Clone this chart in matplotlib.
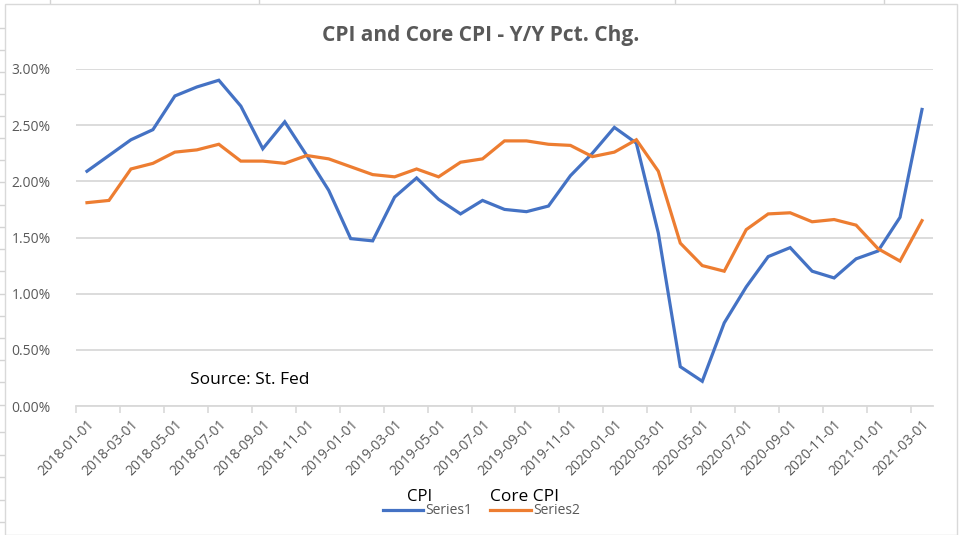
import matplotlib.pyplot as plt
from matplotlib.lines import Line2D
from matplotlib.patches import Rectangle
from matplotlib.ticker import FuncFormatter

# Dane miesieczne 2018-01 .. 2021-03
miesiace = ["2018-01-01", "2018-02-01", "2018-03-01", "2018-04-01", "2018-05-01",
            "2018-06-01", "2018-07-01", "2018-08-01", "2018-09-01", "2018-10-01",
            "2018-11-01", "2018-12-01", "2019-01-01", "2019-02-01", "2019-03-01",
            "2019-04-01", "2019-05-01", "2019-06-01", "2019-07-01", "2019-08-01",
            "2019-09-01", "2019-10-01", "2019-11-01", "2019-12-01", "2020-01-01",
            "2020-02-01", "2020-03-01", "2020-04-01", "2020-05-01", "2020-06-01",
            "2020-07-01", "2020-08-01", "2020-09-01", "2020-10-01", "2020-11-01",
            "2020-12-01", "2021-01-01", "2021-02-01", "2021-03-01"]

cpi = [2.09, 2.23, 2.37, 2.46, 2.76, 2.84, 2.90, 2.67, 2.29, 2.53,
       2.23, 1.92, 1.49, 1.47, 1.86, 2.03, 1.84, 1.71, 1.83, 1.75,
       1.73, 1.78, 2.05, 2.25, 2.48, 2.34, 1.54, 0.35, 0.22, 0.74,
       1.06, 1.33, 1.41, 1.20, 1.14, 1.31, 1.38, 1.68, 2.64]

core_cpi = [1.81, 1.83, 2.11, 2.16, 2.26, 2.28, 2.33, 2.18, 2.18, 2.16,
            2.23, 2.20, 2.13, 2.06, 2.04, 2.11, 2.04, 2.17, 2.20, 2.36,
            2.36, 2.33, 2.32, 2.22, 2.26, 2.37, 2.09, 1.45, 1.25, 1.20,
            1.57, 1.71, 1.72, 1.64, 1.66, 1.61, 1.40, 1.29, 1.65]

szary = "#595959"
siatka = "#d9d9d9"

plt.rcParams['font.family'] = ['Open Sans', 'DejaVu Sans']
fig = plt.figure(figsize=(9.59, 5.35), dpi=100)

W, H = 959.0, 535.0

# Tlo arkusza (linie komorek)
for x in [50, 259, 675, 884]:
    fig.add_artist(Line2D([x / W, x / W], [1, 1 - 5 / H], color="#d4d4d4", lw=1, zorder=-20))
for y in [28, 50, 72, 94, 116, 138, 160, 182, 205, 227, 249, 271, 294, 316,
          338, 360, 382, 405, 432, 455, 477, 500, 522]:
    fig.add_artist(Line2D([0, 5 / W], [1 - y / H, 1 - y / H], color="#d4d4d4", lw=1, zorder=-20))

# Obszar wykresu
fig.add_artist(Rectangle((5 / W, 0), (957 - 5) / W, 1 - 4 / H, transform=fig.transFigure,
                         facecolor="white", edgecolor=siatka, lw=1, zorder=-10))

ax = fig.add_axes([76 / W, 1 - 406 / H, (933 - 76) / W, (406 - 69) / H])
ax.set_facecolor("none")

xs = list(range(len(miesiace)))
ax.plot(xs, cpi, color="#4472C4", lw=2.3, solid_joinstyle="miter", label="Series1", zorder=3)
ax.plot(xs, core_cpi, color="#ED7D31", lw=2.3, solid_joinstyle="miter", label="Series2", zorder=3)

ax.set_xlim(-0.5, len(miesiace) - 0.5)
ax.set_ylim(0, 3.0)
ax.set_yticks([0, 0.5, 1.0, 1.5, 2.0, 2.5, 3.0])
ax.yaxis.set_major_formatter(FuncFormatter(lambda v, p: "%.2f%%" % v))
ax.grid(axis="y", color=siatka, lw=1.3)
ax.set_axisbelow(True)

ax.set_xticks(xs[::2])
ax.set_xticklabels(miesiace[::2], rotation=45, ha="right", va="top", rotation_mode="anchor")
ax.set_xticks([x - 0.5 for x in xs[::2]], minor=True)
ax.tick_params(axis="x", which="major", length=0, pad=8, labelsize=10, labelcolor=szary)
ax.tick_params(axis="x", which="minor", length=5, color=siatka, width=1.2)
ax.tick_params(axis="y", length=0, pad=18, labelsize=10, labelcolor=szary)

for s in ["left", "right", "top"]:
    ax.spines[s].set_visible(False)
ax.spines["bottom"].set_color(siatka)
ax.spines["bottom"].set_linewidth(1.3)

fig.text(481 / W, 1 - 35 / H, "CPI and Core CPI - Y/Y Pct. Chg.", ha="center", va="center",
         fontsize=15, fontweight="bold", color=szary)
fig.text(190 / W, 1 - 380 / H, "Source: St. Fed", ha="left", va="center", fontsize=12.5, color="black")

# Legenda
leg = fig.legend(loc="center left", bbox_to_anchor=(383 / W, 1 - 511 / H), ncol=2, frameon=False,
                 fontsize=10, handlelength=2.9, handletextpad=0.15, columnspacing=1.3,
                 labelcolor=szary, borderpad=0, borderaxespad=0)
fig.text(420 / W, 1 - 497 / H, "CPI", ha="center", va="center", fontsize=12, color="black")
fig.text(524 / W, 1 - 497 / H, "Core CPI", ha="center", va="center", fontsize=12.5, color="black")

fig.savefig("out.png", dpi=100)
